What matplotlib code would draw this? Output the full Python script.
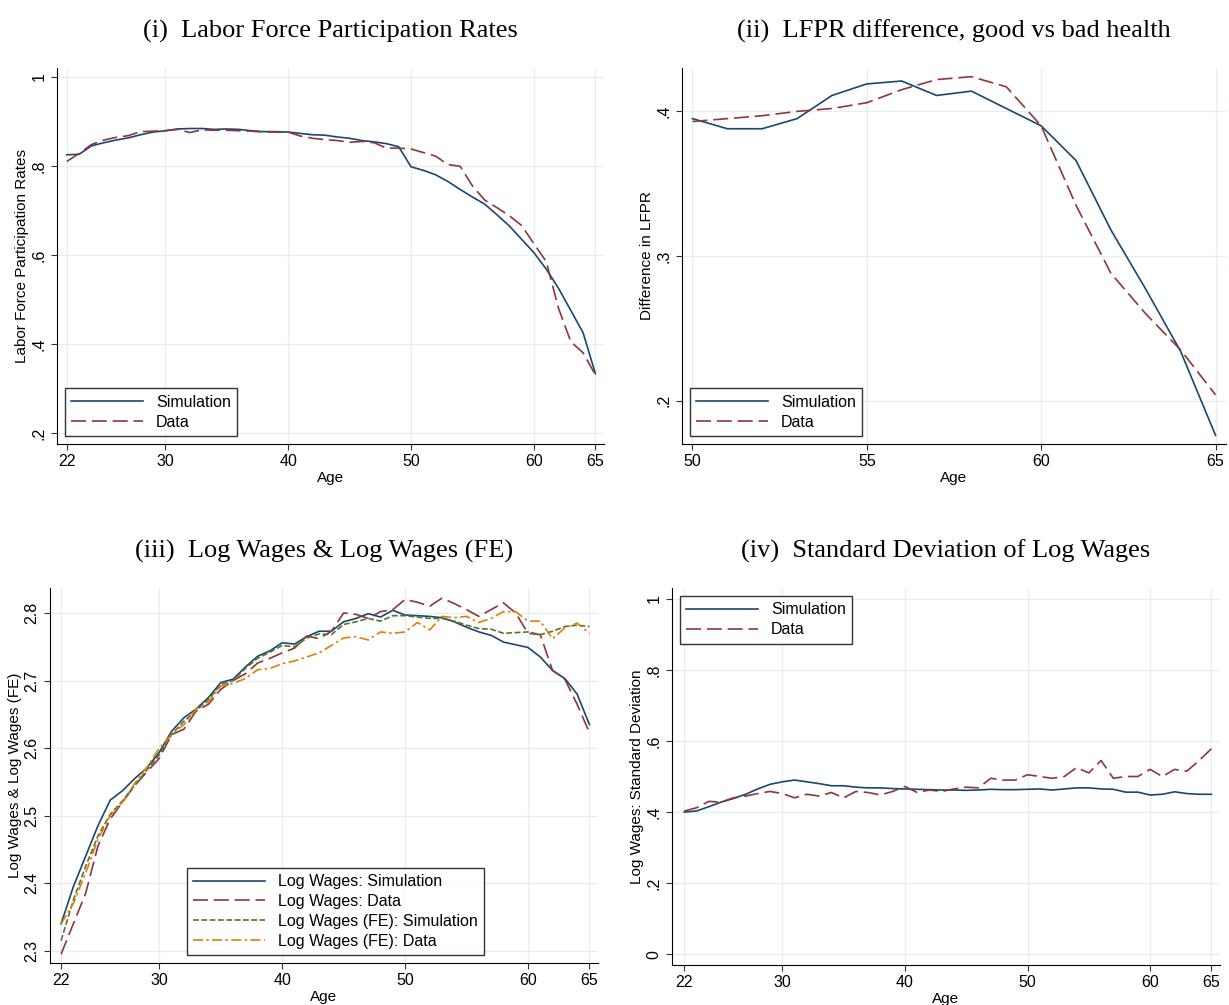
import matplotlib
matplotlib.use("Agg")
import matplotlib.pyplot as plt
import numpy as np

ages = list(range(22, 66))
ages_old = list(range(50, 66))

lfpr_sim = [.825, .826, .845, .852, .858, .863, .870, .876, .879, .883, .884, .884, .882, .883,
            .882, .879, .877, .877, .876, .873, .870, .869, .865, .862, .857, .854, .850, .843,
            .798, .790, .780, .765, .747, .730, .714, .690, .665, .635, .605, .568, .525, .475,
            .425, .333]
lfpr_data = [.810, .828, .848, .858, .864, .868, .877, .878, .879, .882, .875, .881, .880, .880,
             .879, .878, .876, .876, .876, .867, .862, .859, .857, .853, .855, .852, .840, .840,
             .838, .830, .822, .803, .799, .755, .723, .706, .688, .666, .625, .585, .480, .405,
             .380, .330]

diff_sim = [.395, .388, .388, .395, .411, .419, .421, .411, .414, .402, .390, .366, .318, .277,
            .234, .176]
diff_data = [.393, .395, .397, .400, .402, .406, .415, .422, .424, .417, .390, .335, .288, .260,
             .235, .204]

lw_sim = [2.34, 2.395, 2.44, 2.485, 2.523, 2.537, 2.555, 2.571, 2.594, 2.625, 2.645, 2.658, 2.675,
          2.697, 2.702, 2.72, 2.736, 2.744, 2.756, 2.754, 2.765, 2.773, 2.773, 2.787, 2.792, 2.799,
          2.794, 2.804, 2.797, 2.796, 2.795, 2.793, 2.787, 2.779, 2.772, 2.767, 2.757, 2.753, 2.749,
          2.735, 2.715, 2.703, 2.68, 2.635]
lw_data = [2.295, 2.34, 2.385, 2.455, 2.495, 2.52, 2.545, 2.565, 2.585, 2.62, 2.628, 2.655, 2.665,
           2.687, 2.7, 2.71, 2.726, 2.733, 2.741, 2.748, 2.766, 2.762, 2.773, 2.8, 2.798, 2.792,
           2.802, 2.805, 2.82, 2.816, 2.81, 2.822, 2.814, 2.805, 2.795, 2.805, 2.815, 2.8, 2.77,
           2.768, 2.715, 2.702, 2.665, 2.623]
lwfe_sim = [2.315, 2.375, 2.425, 2.47, 2.502, 2.522, 2.545, 2.568, 2.59, 2.62, 2.64, 2.655, 2.672,
            2.694, 2.7, 2.718, 2.733, 2.742, 2.752, 2.75, 2.763, 2.769, 2.768, 2.783, 2.787, 2.792,
            2.788, 2.796, 2.796, 2.794, 2.792, 2.792, 2.788, 2.782, 2.777, 2.776, 2.77, 2.771,
            2.772, 2.768, 2.773, 2.78, 2.782, 2.78]
lwfe_data = [2.34, 2.37, 2.415, 2.465, 2.5, 2.52, 2.548, 2.572, 2.6, 2.62, 2.635, 2.658, 2.668,
             2.692, 2.696, 2.703, 2.716, 2.718, 2.725, 2.729, 2.735, 2.741, 2.752, 2.763, 2.765,
             2.76, 2.772, 2.77, 2.772, 2.786, 2.775, 2.795, 2.793, 2.795, 2.786, 2.792, 2.802,
             2.802, 2.788, 2.788, 2.762, 2.778, 2.785, 2.77]

sd_sim = [.400, .403, .415, .428, .438, .450, .465, .478, .485, .490, .485, .480, .474, .474, .470,
          .468, .468, .466, .465, .464, .463, .462, .462, .461, .462, .464, .463, .463, .464, .465,
          .462, .465, .468, .468, .465, .464, .456, .456, .448, .450, .457, .452, .450, .450]
sd_data = [.403, .412, .430, .428, .440, .445, .452, .458, .452, .440, .450, .445, .455, .440, .458,
           .455, .448, .458, .472, .455, .462, .458, .465, .470, .468, .495, .490, .490, .505, .500,
           .495, .500, .525, .510, .545, .495, .500, .500, .520, .500, .520, .515, .545, .578]

NAVY = "#1a476f"
MAROON = "#90353b"
GREEN = "#55752f"
ORANGE = "#e37e00"

plt.rcParams["font.family"] = ["Liberation Sans", "DejaVu Sans"]

fig = plt.figure(figsize=(12.29, 10.05), dpi=100)
W, H = 1229, 1005


def make_ax(l, r, t, b):
    return fig.add_axes([l / W, 1 - b / H, (r - l) / W, (b - t) / H])


def style(ax, xticks, yticks, ylabels, xlim, ylim, ylabel, title):
    ax.set_xlim(*xlim)
    ax.set_ylim(*ylim)
    ax.set_xticks(xticks)
    ax.set_yticks(yticks)
    ax.set_yticklabels(ylabels, rotation=90, va="center")
    ax.tick_params(labelsize=11.5, length=4, color="#333333")
    ax.grid(True, color="#e6eef1", lw=1)
    ax.set_axisbelow(True)
    ax.spines["top"].set_visible(False)
    ax.spines["right"].set_visible(False)
    ax.set_xlabel("Age", fontsize=11, labelpad=1)
    ax.set_ylabel(ylabel, fontsize=11, labelpad=2)
    ax.set_title(title, fontsize=19, family=["Liberation Serif", "DejaVu Serif"], pad=22)


def legend(ax, loc, **kw):
    lg = ax.legend(loc=loc, fontsize=11.5, fancybox=False, edgecolor="black",
                   handlelength=4.5, borderpad=0.4, labelspacing=0.3, **kw)
    lg.get_frame().set_linewidth(1.0)


dash = dict(dashes=(9, 3.5))

# (i)
ax1 = make_ax(57, 604, 68, 444)
ax1.plot(ages, lfpr_sim, color=NAVY, lw=1.2, label="Simulation")
ax1.plot(ages, lfpr_data, color=MAROON, lw=1.2, label="Data", **dash)
style(ax1, [22, 30, 40, 50, 60, 65], [.2, .4, .6, .8, 1], [".2", ".4", ".6", ".8", "1"],
      (21.2, 65.7), (0.175, 1.02), "Labor Force Participation Rates",
      "(i)  Labor Force Participation Rates")
legend(ax1, "lower left", bbox_to_anchor=(0.0, 0.0))

# (ii)
ax2 = make_ax(682, 1226, 68, 444)
ax2.plot(ages_old, diff_sim, color=NAVY, lw=1.2, label="Simulation")
ax2.plot(ages_old, diff_data, color=MAROON, lw=1.2, label="Data", **dash)
style(ax2, [50, 55, 60, 65], [.2, .3, .4], [".2", ".3", ".4"],
      (49.7, 65.3), (0.17, 0.43), "Difference in LFPR",
      "(ii)  LFPR difference, good vs bad health")
legend(ax2, "lower left", bbox_to_anchor=(0.0, 0.0))

# (iii)
ax3 = make_ax(50, 598, 588, 963)
ax3.plot(ages, lw_sim, color=NAVY, lw=1.2, label="Log Wages: Simulation")
ax3.plot(ages, lw_data, color=MAROON, lw=1.2, label="Log Wages: Data", **dash)
ax3.plot(ages, lwfe_sim, color=GREEN, lw=1.2, label="Log Wages (FE): Simulation", dashes=(3.5, 1.5))
ax3.plot(ages, lwfe_data, color=ORANGE, lw=1.2, label="Log Wages (FE): Data",
         dashes=(6, 2, 1.5, 2))
style(ax3, [22, 30, 40, 50, 60, 65], [2.3, 2.4, 2.5, 2.6, 2.7, 2.8],
      ["2.3", "2.4", "2.5", "2.6", "2.7", "2.8"],
      (21.1, 65.7), (2.282, 2.837), "Log Wages & Log Wages (FE)",
      "(iii)  Log Wages & Log Wages (FE)")
legend(ax3, "lower left", bbox_to_anchor=(0.235, 0.0))

# (iv)
ax4 = make_ax(672, 1220, 588, 965)
ax4.plot(ages, sd_sim, color=NAVY, lw=1.2, label="Simulation")
ax4.plot(ages, sd_data, color=MAROON, lw=1.2, label="Data", **dash)
style(ax4, [22, 30, 40, 50, 60, 65], [0, .2, .4, .6, .8, 1], ["0", ".2", ".4", ".6", ".8", "1"],
      (21.0, 65.7), (-0.03, 1.03), "Log Wages: Standard Deviation",
      "(iv)  Standard Deviation of Log Wages")
legend(ax4, "upper left", bbox_to_anchor=(0.0, 1.0))

fig.savefig("out.png", dpi=100, facecolor="white")
